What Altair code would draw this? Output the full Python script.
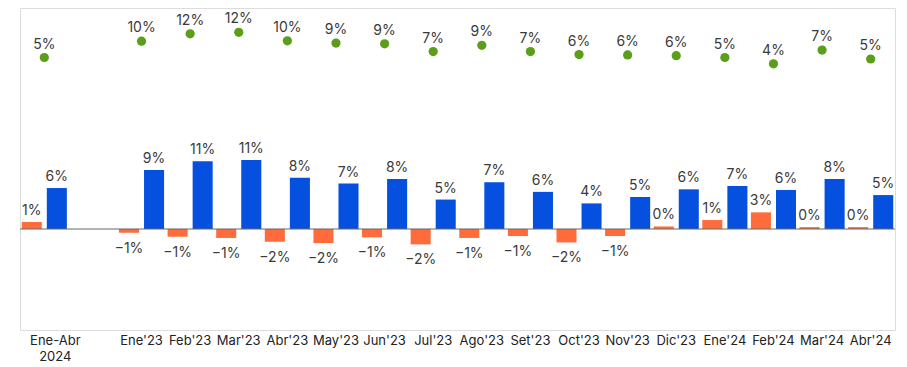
import altair as alt
import pandas as pd

categories = ["Ene-Abr 2024", " ", "Ene'23", "Feb'23", "Mar'23", "Abr'23", "May'23",
              "Jun'23", "Jul'23", "Ago'23", "Set'23", "Oct'23", "Nov'23", "Dic'23",
              "Ene'24", "Feb'24", "Mar'24", "Abr'24"]
data_cats = [c for c in categories if c.strip()]

orange_vals = [1.1, -0.6, -1.2, -1.4, -2.0, -2.2, -1.3, -2.4, -1.4, -1.1, -2.1, -1.1,
               0.4, 1.4, 2.6, 0.3, 0.3]
blue_vals = [6.4, 9.2, 10.6, 10.8, 8.0, 7.1, 7.8, 4.6, 7.3, 5.8, 4.0, 5.0,
             6.2, 6.7, 6.1, 7.8, 5.3]
green_vals = [5.4, 9.8, 11.8, 12.2, 9.9, 9.3, 9.1, 7.0, 8.7, 7.0, 6.2, 6.1,
              5.9, 5.4, 3.7, 7.4, 5.0]

series_names = ["A", "B"]
series_colors = ["#FF6B3B", "#0550DF"]
dot_color = "#5A9E1A"

bars = pd.DataFrame({
    "cat": data_cats * 2,
    "serie": [series_names[0]] * len(data_cats) + [series_names[1]] * len(data_cats),
    "v": orange_vals + blue_vals,
})
dots = pd.DataFrame({"cat": data_cats, "v": green_vals})
zero = pd.DataFrame({"v": [0]})

FONT = "Inter"
label_expr = "datum.value == 'Ene-Abr 2024' ? ['Ene-Abr', '2024'] : datum.label"

x_enc = alt.X(
    "cat:N",
    scale=alt.Scale(domain=categories, paddingInner=0, paddingOuter=0),
    axis=alt.Axis(title=None, labelAngle=0, ticks=False, domain=False, grid=False,
                  labelPadding=4, labelFontSize=13, labelColor="#222222",
                  labelFont=FONT, labelLineHeight=16, labelExpr=label_expr,
                  labelOffset={"condition": {"test": "datum.value == 'Ene-Abr 2024'", "value": 11},
                               "value": 0}),
)

bar_scale = alt.Scale(domain=[-15.78, 34.53], nice=False, zero=False)
dot_scale = alt.Scale(domain=[-68.24, 18.78], nice=False, zero=False)
xoff = alt.XOffset("serie:N", scale=alt.Scale(domain=series_names, paddingInner=0.2, paddingOuter=0.07))

base = alt.Chart(bars)

bar_layer = base.mark_bar().encode(
    x=x_enc,
    xOffset=xoff,
    y=alt.Y("v:Q", scale=bar_scale, axis=None),
    y2=alt.datum(0),
    color=alt.Color("serie:N", scale=alt.Scale(domain=series_names, range=series_colors), legend=None),
)

lab_calc = "format(datum.v, '.0f') + '%'"

pos_text = base.transform_filter("datum.v >= 0").transform_calculate(lab=lab_calc).mark_text(
    baseline="alphabetic", dy=-7, fontSize=14, font=FONT, color="#3a3a3a"
).encode(
    x=x_enc, xOffset=xoff,
    y=alt.Y("v:Q", scale=bar_scale, axis=None),
    text="lab:N",
)

neg_text = base.transform_filter("datum.v < 0").transform_calculate(lab=lab_calc).mark_text(
    baseline="alphabetic", dy=20, fontSize=14, font=FONT, color="#3a3a3a"
).encode(
    x=x_enc, xOffset=xoff,
    y=alt.Y("v:Q", scale=bar_scale, axis=None),
    text="lab:N",
)

rule = alt.Chart(zero).mark_rule(color="#666666", strokeWidth=1).encode(
    y=alt.Y("v:Q", scale=bar_scale, axis=None),
    x=alt.value(0),
    x2=alt.value(875),
)

dot_layer = alt.Chart(dots).mark_circle(size=85, color=dot_color, opacity=1).encode(
    x=x_enc,
    y=alt.Y("v:Q", scale=dot_scale, axis=None),
)

dot_text = alt.Chart(dots).transform_calculate(lab=lab_calc).mark_text(
    baseline="alphabetic", dy=-9, fontSize=14, font=FONT, color="#3a3a3a"
).encode(
    x=x_enc,
    y=alt.Y("v:Q", scale=dot_scale, axis=None),
    text="lab:N",
)

chart = alt.layer(
    bar_layer, rule, pos_text, neg_text, dot_layer, dot_text
).resolve_scale(y="independent").properties(
    width=875, height=322,
    padding={"left": 11, "top": 0, "right": 0, "bottom": 0},
).configure_view(stroke="transparent", strokeWidth=0).configure_axis(
    domain=False, ticks=False, grid=False
).configure_axisY(domain=False, ticks=False, labels=False, grid=False).configure(background="white")

chart.save("out.html", embed_options={"renderer": "svg", "actions": False})
